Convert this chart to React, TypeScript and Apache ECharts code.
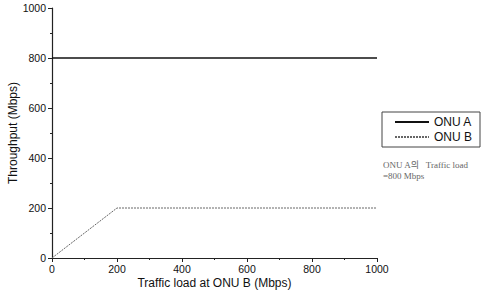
import React, { useEffect, useRef } from "react";
import * as echarts from "echarts";

const onuAData: [number, number][] = [
  [0, 800],
  [1000, 800],
];
const onuBData: [number, number][] = [
  [0, 0],
  [200, 200],
  [1000, 200],
];
const seriesNames = ["ONU A", "ONU B"];
const noteLines = ["ONU A의   Traffic load", "=800 Mbps"];

export default function App() {
  const ref = useRef<HTMLDivElement>(null);
  useEffect(() => {
    if (!ref.current) return;
    const chart = echarts.init(ref.current, null, { renderer: "svg" });
    const font = "Liberation Sans, Arial, sans-serif";
    chart.setOption({
      animation: false,
      backgroundColor: "#fff",
      grid: { left: 52, right: 104, top: 8, bottom: 45, outerBoundsMode: "none", containLabel: false },
      xAxis: {
        type: "value",
        min: 0,
        max: 1000,
        interval: 200,
        name: "Traffic load at ONU B (Mbps)",
        nameLocation: "middle",
        nameGap: 19,
        nameMoveOverlap: false,
        nameTextStyle: { fontFamily: font, fontSize: 12, color: "#111" },
        axisLine: { show: true, lineStyle: { color: "#222", width: 1.2 } },
        axisTick: { show: true, length: 4, lineStyle: { color: "#222" } },
        minorTick: { show: true, splitNumber: 2, length: 2, lineStyle: { color: "#222" } },
        axisLabel: { fontFamily: font, fontSize: 10.5, color: "#111", margin: 5, formatter: (v: number) => String(v) },
        splitLine: { show: false },
      },
      yAxis: {
        type: "value",
        min: 0,
        max: 1000,
        interval: 200,
        name: "Throughput (Mbps)",
        nameLocation: "middle",
        nameGap: 33,
        nameMoveOverlap: false,
        nameTextStyle: { fontFamily: font, fontSize: 12, color: "#111" },
        axisLine: { show: true, lineStyle: { color: "#222", width: 1.2 } },
        axisTick: { show: true, length: 4, lineStyle: { color: "#222" } },
        minorTick: { show: true, splitNumber: 2, length: 2, lineStyle: { color: "#222" } },
        axisLabel: { fontFamily: font, fontSize: 10.5, color: "#111", margin: 6, formatter: (v: number) => String(v) },
        splitLine: { show: false },
      },
      legend: {
        show: true,
        orient: "vertical",
        left: 382,
        top: 112,
        width: 95,
        padding: [4, 8, 4, 12],
        itemGap: 3,
        itemWidth: 34,
        itemHeight: 10,
        borderColor: "#444",
        borderWidth: 1,
        itemStyle: { color: "transparent", borderWidth: 0, opacity: 0 },
        textStyle: { fontFamily: font, fontSize: 12, color: "#111" },
        data: seriesNames,
      },
      graphic: [
        {
          type: "text",
          left: 383,
          top: 159,
          style: {
            text: noteLines.join("\n"),
            fontFamily: "Liberation Serif, 'Noto Sans CJK KR', serif",
            fontSize: 9,
            lineHeight: 11,
            fill: "#666",
          },
        },
      ],
      series: [
        {
          name: seriesNames[0],
          type: "line",
          data: onuAData,
          symbol: "none",
          lineStyle: { color: "#111", width: 1.3 },
          itemStyle: { color: "#111" },
        },
        {
          name: seriesNames[1],
          type: "line",
          data: onuBData,
          symbol: "none",
          lineStyle: { color: "#666", width: 1, type: [2, 1] },
          itemStyle: { color: "#666" },
        },
      ],
    });
    return () => chart.dispose();
  }, []);
  return <div ref={ref} style={{ width: 481, height: 303, position: "absolute", left: 0, top: 0 }} />;
}
